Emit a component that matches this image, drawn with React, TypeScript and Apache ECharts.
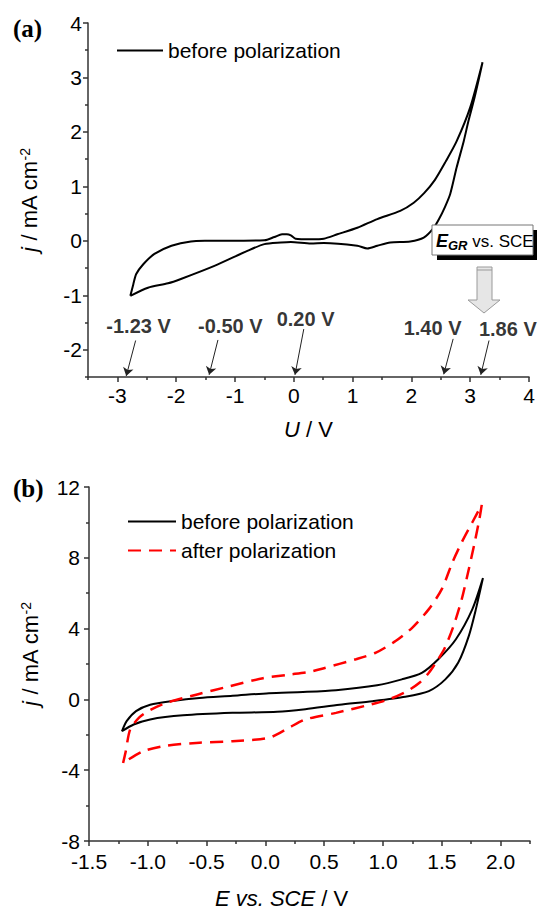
import React, { useEffect, useRef } from 'react';
import * as echarts from 'echarts';

const FONT = "'Liberation Sans', Arial, sans-serif";
const SERIF = "'Liberation Serif', 'Times New Roman', serif";

// Panel (a): before polarization, U / V vs j / mA cm-2
const aU = [-2.78, -2.73, -2.68, -2.56, -2.37, -2.08, -1.75, -1.46, -0.5, -0.33, -0.2, -0.12, -0.05, 0.03, 0.29, 0.51, 0.74, 1.08, 1.42, 1.81, 2.04, 2.22, 2.4, 2.58, 2.77, 3.0, 3.21,
  3.14, 3.06, 2.97, 2.89, 2.77, 2.66, 2.57, 2.47, 2.38, 2.21, 1.98, 1.64, 1.42, 1.25, 1.08, 0.51, 0.29, -0.05, -0.22, -0.5, -0.78, -1.35, -1.92, -2.14, -2.48, -2.78];
const aJ = [-1.01, -0.8, -0.61, -0.43, -0.24, -0.09, -0.01, 0.0, 0.01, 0.07, 0.12, 0.12, 0.1, 0.04, 0.03, 0.04, 0.12, 0.24, 0.4, 0.55, 0.7, 0.88, 1.12, 1.45, 1.83, 2.45, 3.28,
  2.94, 2.57, 2.2, 1.83, 1.35, 0.86, 0.62, 0.4, 0.24, 0.06, -0.01, -0.03, -0.09, -0.14, -0.09, -0.04, -0.05, -0.02, -0.03, -0.06, -0.18, -0.46, -0.7, -0.78, -0.86, -1.01];

// Panel (b): before polarization
const bE = [-1.22, -1.18, -1.1, -0.98, -0.79, -0.56, -0.28, 0.03, 0.32, 0.6, 0.95, 1.16, 1.33, 1.47, 1.62, 1.76, 1.85,
  1.79, 1.73, 1.64, 1.53, 1.39, 1.19, 0.91, 0.63, 0.34, 0.1, -0.28, -0.7, -0.98, -1.12, -1.22];
const bJ = [-1.8, -1.23, -0.66, -0.3, -0.09, 0.08, 0.2, 0.35, 0.42, 0.52, 0.8, 1.13, 1.5, 2.27, 3.4, 5.1, 6.85,
  5.1, 3.59, 2.08, 1.13, 0.47, 0.15, -0.1, -0.3, -0.55, -0.7, -0.76, -0.9, -1.13, -1.42, -1.8];

// Panel (b): after polarization
const cE = [-1.21, -1.19, -1.15, -1.07, -0.98, -0.84, -0.58, -0.3, -0.02, 0.2, 0.37, 0.49, 0.77, 0.94, 1.11, 1.25, 1.39, 1.5, 1.59, 1.67, 1.76, 1.84,
  1.82, 1.78, 1.73, 1.67, 1.6, 1.52, 1.45, 1.39, 1.31, 1.2, 1.05, 0.9, 0.6, 0.34, 0.2, 0.03, -0.28, -0.56, -0.84, -1.04, -1.21];
const cJ = [-3.59, -3.02, -1.7, -1.0, -0.6, -0.19, 0.28, 0.75, 1.2, 1.4, 1.55, 1.75, 2.27, 2.64, 3.31, 4.06, 5.1, 6.23, 7.74, 8.88, 10.01, 11.0,
  10.2, 8.88, 7.37, 5.67, 4.15, 2.83, 2.08, 1.51, 0.94, 0.45, 0.0, -0.28, -0.76, -1.13, -1.6, -2.17, -2.36, -2.45, -2.61, -2.93, -3.59];

// Tick values
const aXMajor = [-3, -2, -1, 0, 1, 2, 3, 4];
const aXMinor = [-3.5, -2.5, -1.5, -0.5, 0.5, 1.5, 2.5, 3.5];
const aYMajor = [-2, -1, 0, 1, 2, 3, 4];
const aYMinor = [-2.5, -1.5, -0.5, 0.5, 1.5, 2.5, 3.5];
const bXMajor = [-1.5, -1.0, -0.5, 0.0, 0.5, 1.0, 1.5, 2.0];
const bXMinor = [-1.25, -0.75, -0.25, 0.25, 0.75, 1.25, 1.75, 2.25];
const bYMajor = [-8, -4, 0, 4, 8, 12];
const bYMinor = [-6, -2, 2, 6, 10];

// Annotations in panel (a): potential labels and arrows (U, j)
const potLabels = ['-1.23 V', '-0.50 V', '0.20 V', '1.40 V', '1.86 V'];
const potLabelU = [-2.64, -1.08, 0.2, 2.36, 3.64];
const potLabelJ = [-1.56, -1.56, -1.43, -1.6, -1.61];
const arrowFromU = [-2.69, -1.29, 0.17, 2.71, 3.32];
const arrowFromJ = [-1.83, -1.82, -1.62, -1.8, -1.83];
const arrowToU = [-2.85, -1.44, 0.02, 2.55, 3.18];
const arrowToJ = [-2.48, -2.46, -2.46, -2.45, -2.46];

const zip = (xs: number[], ys: number[]) => xs.map((x, i) => [x, ys[i]]);

const AX = '#333';

function mainAxis(grid: number, min: number, max: number, major: number[], isX: boolean, extra: any) {
  return {
    type: 'value', gridIndex: grid, min, max,
    position: isX ? 'bottom' : 'left',
    axisLine: { show: true, onZero: false, lineStyle: { color: AX, width: 1.5 } },
    axisTick: { show: true, customValues: major, length: 5, inside: false, lineStyle: { color: AX, width: 1.5 } },
    axisLabel: { show: true, customValues: major, fontSize: 21, fontFamily: FONT, color: '#000', margin: extra.margin, ...(extra.labelFmt ? { formatter: extra.labelFmt } : {}) },
    splitLine: { show: false },
    ...extra.name,
  };
}
function minorAxis(grid: number, min: number, max: number, minor: number[], isX: boolean) {
  return {
    type: 'value', gridIndex: grid, min, max,
    position: isX ? 'bottom' : 'left',
    axisLine: { show: false, onZero: false },
    axisTick: { show: true, customValues: minor, length: 3, inside: false, lineStyle: { color: AX, width: 1.5 } },
    axisLabel: { show: false },
    splitLine: { show: false },
  };
}

const nameRich = {
  i: { fontStyle: 'italic', fontSize: 22, fontFamily: FONT, color: '#000' },
  n: { fontSize: 22, fontFamily: FONT, color: '#000' },
  sup: { fontSize: 14, fontFamily: FONT, color: '#000', verticalAlign: 'top' },
};
const yNameStyle = (pad: number[]) => ({ fontSize: 22, fontFamily: FONT, color: '#000', padding: pad, rich: nameRich });

export default function App() {
  const ref = useRef<HTMLDivElement>(null);
  useEffect(() => {
    const chart = echarts.init(ref.current!, null, { renderer: 'svg' });
    const legendText = { fontSize: 21, fontFamily: FONT, color: '#000' };
    const option: any = {
      animation: false,
      backgroundColor: '#fff',
      textStyle: { fontFamily: FONT },
      grid: [
        { left: 88, top: 23, width: 441, height: 354, containLabel: false },
        { left: 89, top: 487, width: 441, height: 355, containLabel: false },
      ],
      xAxis: [
        mainAxis(0, -3.5, 4, aXMajor, true, {
          margin: 8,
          name: {
            name: '{i|U}{n| / V}', nameLocation: 'middle', nameGap: 41,
            nameTextStyle: { fontSize: 22, fontFamily: FONT, color: '#000', rich: nameRich },
          },
        }),
        minorAxis(0, -3.5, 4, aXMinor, true),
        mainAxis(1, -1.5, 2.25, bXMajor, true, {
          margin: 10,
          labelFmt: (v: number) => v.toFixed(1),
          name: {
            name: '{i|E vs. SCE}{n| / V}', nameLocation: 'middle', nameGap: 46,
            nameTextStyle: { fontSize: 22, fontFamily: FONT, color: '#000', padding: [0, 56, 0, 0], rich: nameRich },
          },
        }),
        minorAxis(1, -1.5, 2.25, bXMinor, true),
      ],
      yAxis: [
        mainAxis(0, -2.5, 4, aYMajor, false, {
          margin: 6,
          name: { name: '{i|j}{n| / mA cm}{sup|-2}', nameLocation: 'middle', nameGap: 48, nameTextStyle: yNameStyle([0, 0, 0, 0]) },
        }),
        minorAxis(0, -2.5, 4, aYMinor, false),
        mainAxis(1, -8, 12, bYMajor, false, {
          margin: 9,
          name: { name: '{i|j}{n| / mA cm}{sup|-2}', nameLocation: 'middle', nameGap: 48, nameTextStyle: yNameStyle([0, 0, 0, 20]) },
        }),
        minorAxis(1, -8, 12, bYMinor, false),
      ],
      legend: [
        {
          data: ['before polarization'], left: 111, top: 35, itemWidth: 46, itemHeight: 14,
          selectedMode: false, itemStyle: { opacity: 0 }, textStyle: legendText,
        },
        {
          data: ['before polarization', 'after polarization'], left: 122, top: 506, orient: 'vertical', itemGap: 8,
          itemWidth: 48, itemHeight: 14, selectedMode: false, itemStyle: { opacity: 0 },
          textStyle: legendText,
        },
      ],
      series: [
        {
          type: 'line', name: 'before polarization', xAxisIndex: 0, yAxisIndex: 0,
          data: zip(aU, aJ), symbol: 'none', smooth: 0.25,
          lineStyle: { color: '#000', width: 2 }, itemStyle: { color: '#000' },
        },
        {
          type: 'scatter', xAxisIndex: 0, yAxisIndex: 0, symbolSize: 0, silent: true,
          data: potLabels.map((t, i) => ({ name: t, value: [potLabelU[i], potLabelJ[i]] })),
          itemStyle: { color: '#000' },
          label: { show: true, position: 'inside', formatter: '{b}', fontSize: 20, fontWeight: 'bold', fontFamily: FONT, color: '#000', textBorderWidth: 0 },
          markLine: {
            silent: true, symbol: ['none', 'arrow'], symbolSize: 8,
            lineStyle: { color: '#222', width: 1, type: 'solid' },
            itemStyle: { color: '#222' },
            label: { show: false },
            data: arrowFromU.map((u, i) => [{ coord: [u, arrowFromJ[i]] }, { coord: [arrowToU[i], arrowToJ[i]] }]),
          },
        },
        {
          type: 'line', name: 'before polarization', xAxisIndex: 2, yAxisIndex: 2,
          data: zip(bE, bJ), symbol: 'none', smooth: 0.25,
          lineStyle: { color: '#000', width: 2 }, itemStyle: { color: '#000' },
        },
        {
          type: 'line', name: 'after polarization', xAxisIndex: 2, yAxisIndex: 2,
          data: zip(cE, cJ), symbol: 'none', smooth: 0.25,
          lineStyle: { color: '#ff0000', width: 2.5, type: [13, 8] }, itemStyle: { color: '#ff0000' },
        },
      ],
      graphic: [
        { type: 'text', x: 13, y: 28, z: 100, style: { text: '(a)', font: `bold 25px ${SERIF}`, fill: '#000', verticalAlign: 'middle' } },
        { type: 'text', x: 13, y: 488, z: 100, style: { text: '(b)', font: `bold 25px ${SERIF}`, fill: '#000', verticalAlign: 'middle' } },
        { type: 'rect', z: 100, shape: { x: 437, y: 230, width: 100, height: 30 }, style: { fill: '#000' } },
        { type: 'rect', z: 101, shape: { x: 432, y: 225, width: 101, height: 30 }, style: { fill: '#fff', stroke: '#777', lineWidth: 1 } },
        {
          type: 'text', x: 436, y: 241, z: 102,
          style: {
            text: '{e|E}{s|GR}{n| vs. SCE}', verticalAlign: 'middle',
            rich: {
              e: { fontSize: 18, fontWeight: 'bold', fontStyle: 'italic', fontFamily: FONT, fill: '#000', lineHeight: 22 },
              s: { fontSize: 13, fontWeight: 'bold', fontStyle: 'italic', fontFamily: FONT, fill: '#000', verticalAlign: 'bottom', lineHeight: 22 },
              n: { fontSize: 17, fontFamily: FONT, fill: '#000', lineHeight: 22 },
            },
          },
        },
        {
          type: 'polygon', z: 100,
          shape: { points: [[477, 267], [492, 267], [492, 300], [500, 300], [484, 313], [468, 300], [477, 300]] },
          style: { fill: '#e6e6e6', stroke: '#9a9a9a', lineWidth: 1 },
        },
        { type: 'line', z: 101, shape: { x1: 477, y1: 270, x2: 492, y2: 270 }, style: { stroke: '#9a9a9a', lineWidth: 1 } },
      ],
    };
    chart.setOption(option);
    return () => chart.dispose();
  }, []);
  return <div ref={ref} style={{ position: 'absolute', left: 0, top: 0, width: 539, height: 910, background: '#fff' }} />;
}
